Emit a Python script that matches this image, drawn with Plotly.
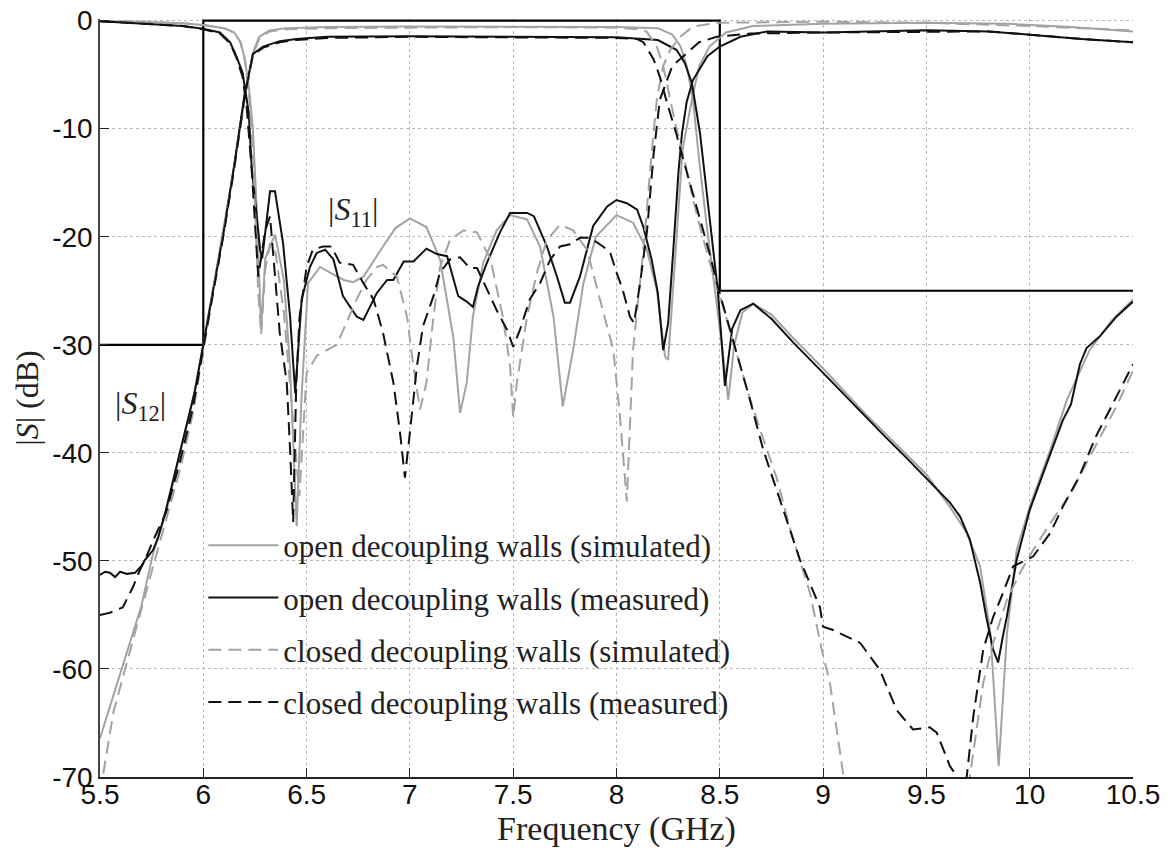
import plotly.graph_objects as go

# ---------------- data ----------------
# open decoupling walls (simulated) - gray solid
os_s11_f = [5.5, 5.7, 5.9, 6.0, 6.1, 6.15, 6.18, 6.2, 6.22, 6.24, 6.26, 6.28, 6.3, 6.347, 6.39, 6.42, 6.452,
            6.475, 6.507, 6.565, 6.62, 6.68, 6.725, 6.775, 6.87, 6.93, 7.0, 7.08, 7.146, 7.21, 7.243, 7.275,
            7.305, 7.355, 7.42, 7.485, 7.567, 7.63, 7.695, 7.74, 7.79, 7.84, 7.9, 8.0, 8.08, 8.147, 8.195,
            8.235, 8.25, 8.275, 8.3, 8.32, 8.365, 8.40, 8.45, 8.53, 8.66, 9.0, 9.5, 9.9, 10.2, 10.5]
os_s11_db = [-0.05, -0.1, -0.25, -0.4, -0.7, -1.1, -2.0, -3.5, -6.0, -10.0, -18.0, -28.6, -22.0, -19.8, -24.0,
             -32.0, -46.8, -35.0, -24.3, -22.8, -23.4, -24.0, -24.2, -23.7, -20.9, -19.2, -18.3, -19.1, -22.1,
             -29.3, -36.3, -33.5, -27.4, -22.4, -19.4, -18.0, -18.4, -20.9, -27.4, -35.7, -30.5, -24.3, -20.0,
             -18.0, -18.7, -21.2, -24.9, -31.1, -31.4, -24.3, -17.5, -11.9, -7.3, -4.2, -2.4, -1.1, -0.5, -0.3,
             -0.2, -0.3, -0.6, -1.0]
os_s21_f = [5.5, 5.6, 5.7, 5.757, 5.823, 5.887, 5.95, 6.0, 6.05, 6.1, 6.15, 6.2, 6.22, 6.24, 6.27, 6.32, 6.4,
            6.6, 7.0, 7.5, 8.0, 8.2, 8.27, 8.31, 8.34, 8.37, 8.40, 8.437, 8.477, 8.51, 8.541, 8.57, 8.61, 8.662,
            8.75, 8.856, 9.0, 9.1, 9.2, 9.3, 9.4, 9.5, 9.614, 9.695, 9.76, 9.81, 9.85, 9.89, 9.937, 10.0, 10.1,
            10.18, 10.29, 10.4, 10.5]
os_s21_db = [-66.4, -60.4, -54.2, -49.3, -45.3, -40.0, -35.1, -30.0, -24.5, -19.2, -13.5, -7.2, -5.0, -3.0,
             -1.5, -0.9, -0.7, -0.6, -0.55, -0.6, -0.6, -0.7, -1.3, -2.4, -4.2, -7.3, -12.9, -19.0, -24.9, -30.0,
             -35.1, -30.0, -27.0, -26.2, -27.2, -29.4, -32.2, -34.3, -36.3, -38.2, -40.1, -42.0, -45.0, -47.4,
             -50.5, -56.7, -69.0, -56.7, -49.0, -45.0, -39.7, -35.1, -30.5, -27.7, -25.8]

# open decoupling walls (measured) - black solid
om_s11_f = [5.5, 5.75, 5.9, 6.0, 6.08, 6.13, 6.16, 6.19, 6.2, 6.22, 6.234, 6.258, 6.275, 6.285, 6.323, 6.347,
            6.386, 6.42, 6.445, 6.476, 6.516, 6.549, 6.59, 6.63, 6.676, 6.743, 6.775, 6.84, 6.89, 6.92, 6.97,
            7.017, 7.08, 7.13, 7.18, 7.234, 7.275, 7.305, 7.33, 7.373, 7.436, 7.485, 7.567, 7.6, 7.663, 7.712,
            7.75, 7.775, 7.823, 7.887, 7.955, 8.0, 8.05, 8.1, 8.13, 8.17, 8.2, 8.226, 8.25, 8.275, 8.3, 8.317,
            8.34, 8.37, 8.44, 8.5, 8.6, 8.73, 9.0, 9.5, 9.8, 10.0, 10.25, 10.5]
om_s11_db = [-0.05, -0.3, -0.5, -0.75, -1.1, -2.0, -3.3, -4.8, -6.0, -8.5, -13.5, -18.1, -21.2, -22.0, -15.8,
             -15.8, -20.6, -27.4, -34.5, -25.8, -22.8, -21.5, -21.2, -22.1, -25.5, -27.4, -27.7, -25.2, -24.0,
             -24.0, -22.3, -22.3, -21.1, -21.6, -21.8, -25.5, -26.0, -26.5, -24.6, -22.4, -19.6, -17.8, -17.8,
             -18.1, -20.9, -23.7, -26.1, -26.1, -23.7, -19.0, -17.2, -16.6, -16.9, -17.5, -19.1, -22.1, -25.2,
             -30.5, -28.0, -21.2, -14.0, -10.4, -7.5, -5.5, -3.3, -2.4, -1.5, -1.0, -1.1, -0.9, -1.0, -1.3, -1.7,
             -2.0]
om_s21_f = [5.5, 5.525, 5.548, 5.573, 5.597, 5.63, 5.67, 5.70, 5.718, 5.742, 5.757, 5.782, 5.815, 5.847, 5.887,
            5.926, 5.96, 6.0, 6.05, 6.1, 6.15, 6.2, 6.22, 6.24, 6.29, 6.37, 6.45, 6.6, 7.0, 7.5, 8.0, 8.2, 8.29,
            8.33, 8.365, 8.404, 8.437, 8.47, 8.49, 8.525, 8.56, 8.6, 8.662, 8.75, 8.856, 9.0, 9.1, 9.2, 9.3, 9.4,
            9.5, 9.566, 9.614, 9.663, 9.71, 9.76, 9.79, 9.823, 9.847, 9.87, 9.889, 9.937, 10.0, 10.065, 10.16,
            10.2, 10.243, 10.275, 10.34, 10.42, 10.5]
om_s21_db = [-51.3, -51.0, -51.1, -51.5, -51.0, -51.2, -51.1, -50.5, -49.9, -49.4, -49.0, -47.8, -45.6, -43.1,
             -40.0, -37.0, -34.2, -30.0, -24.7, -19.4, -13.3, -6.8, -5.0, -3.1, -2.4, -1.9, -1.7, -1.5, -1.45,
             -1.5, -1.55, -1.8, -2.7, -3.9, -5.8, -10.4, -16.0, -21.2, -24.9, -33.8, -28.5, -26.8, -26.2, -27.6,
             -29.8, -32.6, -34.6, -36.6, -38.5, -40.4, -42.4, -43.7, -44.6, -45.9, -48.0, -52.0, -55.2, -58.2,
             -59.4, -57.0, -55.2, -49.9, -45.3, -41.9, -37.0, -35.5, -31.8, -30.3, -29.2, -27.4, -26.0]

# closed decoupling walls (simulated) - gray dashed
cs_s11_f = [5.5, 5.7, 5.9, 6.0, 6.1, 6.15, 6.18, 6.2, 6.22, 6.24, 6.266, 6.28, 6.3, 6.323, 6.35, 6.39, 6.43,
            6.465, 6.5, 6.55, 6.646, 6.742, 6.79, 6.84, 6.87, 6.937, 6.986, 7.017, 7.049, 7.08, 7.114, 7.146,
            7.194, 7.26, 7.325, 7.39, 7.45, 7.485, 7.5, 7.518, 7.567, 7.615, 7.663, 7.727, 7.79, 7.857, 7.92,
            7.985, 8.017, 8.05, 8.08, 8.13, 8.17, 8.195, 8.226, 8.26, 8.307, 8.37, 8.49, 9.0, 9.5, 10.0, 10.5]
cs_s11_db = [-0.05, -0.1, -0.25, -0.4, -0.7, -1.1, -2.0, -3.5, -6.5, -12.0, -25.2, -29.0, -23.0, -20.6, -21.5,
             -27.0, -36.0, -44.0, -32.6, -31.0, -30.0, -25.8, -24.0, -22.8, -22.6, -23.7, -27.4, -32.0, -36.0,
             -33.5, -27.4, -22.8, -20.3, -19.4, -19.6, -22.1, -27.4, -32.0, -36.7, -33.5, -27.4, -23.3, -20.3,
             -18.9, -19.4, -21.2, -25.8, -30.5, -36.7, -44.5, -30.5, -21.2, -12.3, -7.3, -4.2, -2.7, -1.5, -0.55,
             -0.2, -0.1, -0.2, -0.5, -0.9]
cs_s21_f = [5.5, 5.515, 5.565, 5.63, 5.694, 5.757, 5.82, 5.887, 5.95, 6.0, 6.05, 6.1, 6.15, 6.2, 6.22, 6.24,
            6.27, 6.32, 6.4, 6.6, 7.0, 7.5, 8.0, 8.1, 8.145, 8.195, 8.226, 8.26, 8.29, 8.33, 8.37, 8.41, 8.45,
            8.49, 8.57, 8.646, 8.71, 8.775, 8.84, 8.937, 8.993, 9.033, 9.097, 9.15, 9.4, 9.65, 9.71, 9.74,
            9.775, 9.823, 9.89, 9.953, 10.016, 10.1, 10.2, 10.29, 10.42, 10.5]
cs_s21_db = [-71.5, -69.7, -64.0, -59.4, -54.8, -50.5, -46.2, -41.6, -36.3, -30.5, -24.8, -19.4, -13.6, -7.3,
             -5.2, -3.2, -1.7, -1.0, -0.8, -0.7, -0.65, -0.6, -0.65, -0.8, -1.0, -2.4, -4.2, -7.3, -10.0, -13.0,
             -16.5, -19.5, -22.3, -24.8, -30.0, -35.0, -38.7, -42.3, -47.0, -53.0, -58.2, -61.3, -69.7, -76.0,
             -85.0, -78.0, -70.0, -66.0, -61.3, -57.6, -53.6, -51.1, -49.0, -46.5, -43.7, -40.4, -35.7, -32.4]

# closed decoupling walls (measured) - black dashed
cm_s11_f = [5.5, 5.75, 5.9, 6.0, 6.08, 6.13, 6.16, 6.19, 6.21, 6.235, 6.26, 6.266, 6.3, 6.323, 6.37, 6.404,
            6.42, 6.435, 6.45, 6.466, 6.5, 6.53, 6.58, 6.62, 6.66, 6.725, 6.775, 6.824, 6.87, 6.92, 6.952,
            6.976, 7.0, 7.034, 7.063, 7.114, 7.146, 7.194, 7.243, 7.29, 7.325, 7.373, 7.42, 7.47, 7.5, 7.533,
            7.58, 7.63, 7.68, 7.727, 7.775, 7.823, 7.87, 7.935, 7.97, 8.0, 8.03, 8.065, 8.085, 8.114, 8.147,
            8.18, 8.21, 8.27, 8.34, 8.40, 8.485, 8.646, 9.0, 9.5, 9.8, 10.0, 10.25, 10.5]
cm_s11_db = [-0.05, -0.3, -0.5, -0.8, -1.2, -2.1, -3.4, -5.2, -8.0, -14.0, -21.2, -23.7, -19.4, -18.1, -28.9,
             -33.5, -39.7, -46.4, -33.5, -27.4, -22.8, -21.2, -20.9, -20.9, -22.4, -22.6, -24.3, -25.8, -28.9,
             -33.5, -38.1, -42.3, -38.1, -32.0, -28.3, -25.5, -23.3, -22.1, -21.9, -22.9, -22.9, -24.9, -26.8,
             -28.6, -30.2, -28.6, -25.8, -24.3, -22.1, -20.9, -20.7, -20.1, -20.1, -20.9, -21.5, -23.3, -24.9,
             -27.4, -28.0, -24.3, -19.6, -12.3, -7.3, -4.2, -3.0, -2.0, -1.5, -1.2, -1.1, -1.0, -1.0, -1.3, -1.7,
             -2.0]
cm_s21_f = [5.5, 5.548, 5.61, 5.66, 5.694, 5.718, 5.76, 5.82, 5.887, 5.95, 6.0, 6.05, 6.1, 6.15, 6.2, 6.22,
            6.24, 6.29, 6.37, 6.45, 6.6, 7.0, 7.5, 8.0, 8.1, 8.13, 8.18, 8.21, 8.24, 8.29, 8.34, 8.40, 8.45,
            8.49, 8.57, 8.646, 8.71, 8.806, 8.888, 8.985, 9.0, 9.048, 9.18, 9.275, 9.356, 9.435, 9.516, 9.55,
            9.614, 9.65, 9.675, 9.695, 9.727, 9.775, 9.823, 9.87, 9.92, 9.985, 10.016, 10.1, 10.16, 10.24,
            10.32, 10.42, 10.5]
cm_s21_db = [-55.0, -54.8, -54.3, -52.4, -50.8, -49.9, -48.0, -45.5, -40.8, -35.8, -30.3, -24.9, -19.6, -13.6,
             -7.0, -5.1, -3.2, -2.5, -2.0, -1.8, -1.6, -1.5, -1.55, -1.6, -1.7, -2.0, -3.6, -5.2, -7.3, -10.5,
             -14.0, -18.0, -21.5, -24.6, -30.0, -35.1, -39.7, -45.3, -49.9, -54.3, -56.1, -56.4, -57.6, -60.1,
             -63.8, -65.6, -65.4, -65.9, -69.0, -70.0, -73.0, -70.0, -64.4, -58.2, -55.2, -53.0, -50.5, -49.9,
             -49.6, -47.4, -45.0, -42.2, -38.5, -34.8, -31.8]

# specification mask
mask_f = [5.5, 6.0, 6.0, 8.5, 8.5, 10.5]
mask_db = [-30, -30, 0, 0, -25, -25]

legend_names = ["open decoupling walls (simulated)", "open decoupling walls (measured)",
                "closed decoupling walls (simulated)", "closed decoupling walls (measured)"]
x_ticks = [5.5, 6, 6.5, 7, 7.5, 8, 8.5, 9, 9.5, 10, 10.5]
x_ticktext = ["5.5", "6", "6.5", "7", "7.5", "8", "8.5", "9", "9.5", "10", "10.5"]
y_ticks = [0, -10, -20, -30, -40, -50, -60, -70]
y_ticktext = ["0", "-10", "-20", "-30", "-40", "-50", "-60", "-70"]

# ---------------- figure ----------------
GRAY = "#a3a3a3"
BLACK = "#111111"
DASH = "13px,7px"

series = [
    (legend_names[0], os_s21_f, os_s21_db, os_s11_f, os_s11_db, GRAY, "solid"),
    (legend_names[1], om_s21_f, om_s21_db, om_s11_f, om_s11_db, BLACK, "solid"),
    (legend_names[2], cs_s21_f, cs_s21_db, cs_s11_f, cs_s11_db, GRAY, DASH),
    (legend_names[3], cm_s21_f, cm_s21_db, cm_s11_f, cm_s11_db, BLACK, DASH),
]

fig = go.Figure()

fig.add_trace(go.Scatter(x=mask_f, y=mask_db, mode="lines", line=dict(color="#000000", width=2.2),
                         showlegend=False, hoverinfo="skip"))

for i, (name, f21, d21, f11, d11, col, dash) in enumerate(series):
    grp = "g%d" % i
    fig.add_trace(go.Scatter(x=f11, y=d11, mode="lines", name=name, legendgroup=grp,
                             line=dict(color=col, width=2, dash=dash), showlegend=True))
    fig.add_trace(go.Scatter(x=f21, y=d21, mode="lines", name=name, legendgroup=grp,
                             line=dict(color=col, width=2, dash=dash), showlegend=False))

fig.add_annotation(x=6.725, y=-17.7, text="|<i>S</i><sub>11</sub>|", showarrow=False,
                   font=dict(family="Liberation Serif", size=32, color="#222"))
fig.add_annotation(x=5.694, y=-35.6, text="|<i>S</i><sub>12</sub>|", showarrow=False,
                   font=dict(family="Liberation Serif", size=32, color="#222"))

grid = dict(showgrid=True, gridcolor="#b8b8b8", gridwidth=1, griddash="dot", zeroline=False)

fig.update_xaxes(range=[5.5, 10.5], tickvals=x_ticks, ticktext=x_ticktext, ticks="inside", ticklen=9,
                 tickcolor="#222", showline=True, linecolor="#222", linewidth=2,
                 tickfont=dict(family="Arial", size=28, color="#111"), ticklabelstandoff=-9,
                 title=dict(text="Frequency (GHz)", font=dict(family="Liberation Serif", size=34, color="#222"),
                            standoff=0),
                 **grid)
fig.update_yaxes(range=[-70, 0.15], tickvals=y_ticks, ticktext=y_ticktext, ticks="inside", ticklen=9,
                 tickcolor="#222", showline=True, linecolor="#444", linewidth=1.5,
                 tickfont=dict(family="Arial", size=28, color="#111"),
                 title=dict(text="|<i>S</i>| (dB)", font=dict(family="Liberation Serif", size=32, color="#222"),
                            standoff=4),
                 **grid)

fig.update_layout(
    width=1171, height=858,
    margin=dict(l=100, r=38, t=19, b=81, autoexpand=False),
    plot_bgcolor="white", paper_bgcolor="white",
    showlegend=True,
    legend=dict(x=0.1, y=0.341, xanchor="left", yanchor="top", bgcolor="rgba(0,0,0,0)",
                font=dict(family="Liberation Serif", size=31, color="#222"),
                traceorder="grouped", tracegroupgap=9, itemwidth=70),
)

fig.write_html("out.html")
